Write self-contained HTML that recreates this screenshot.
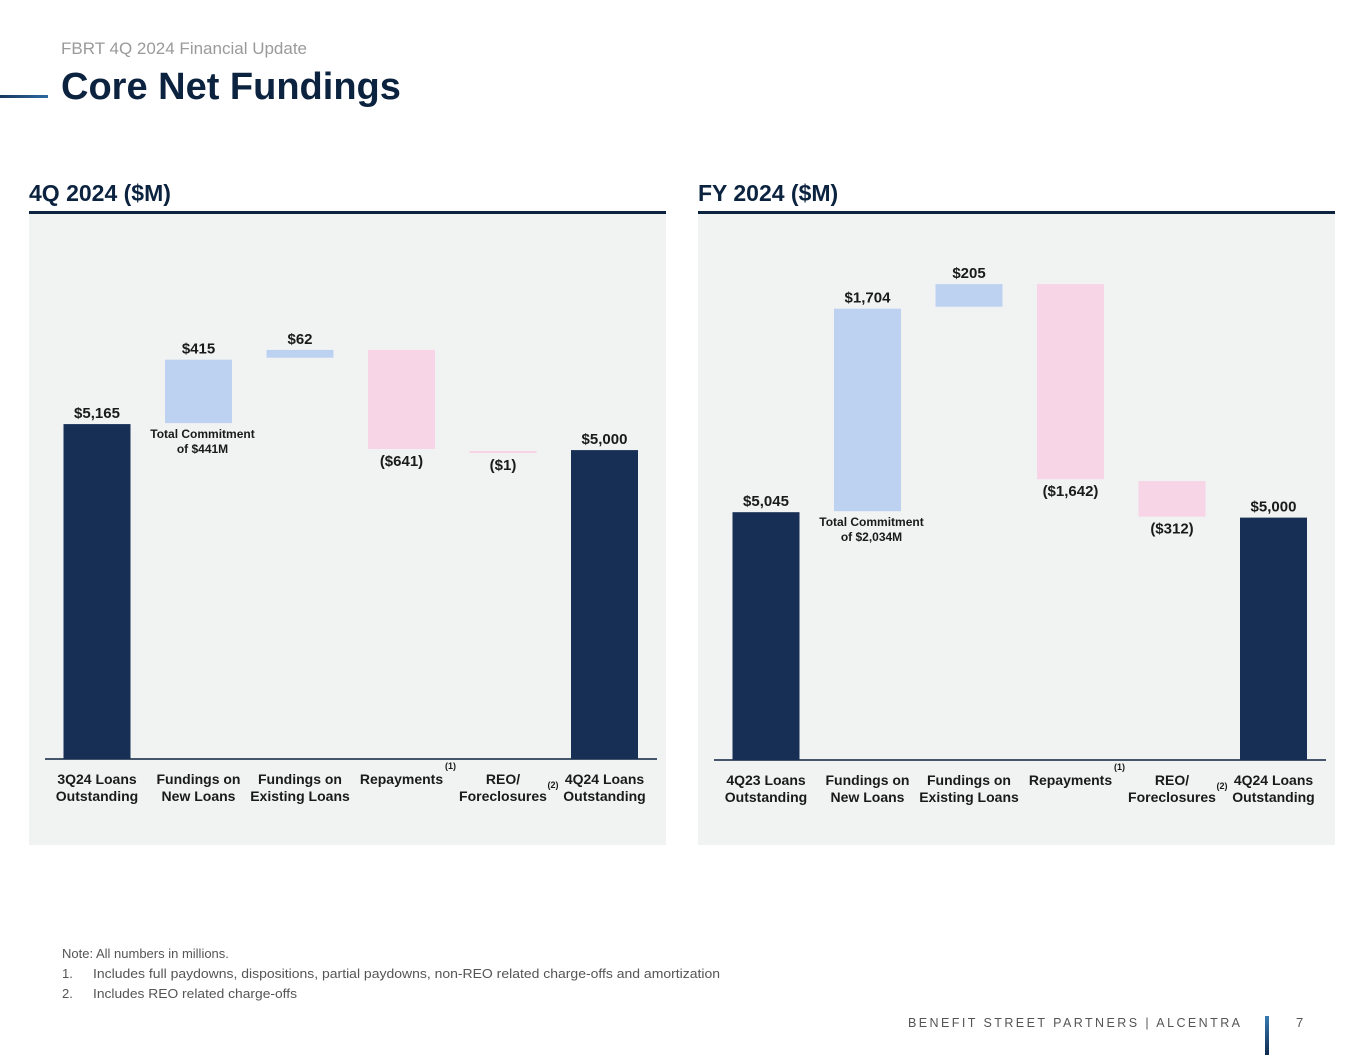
<!DOCTYPE html>
<html><head><meta charset="utf-8"><style>
body{margin:0;background:#fff;}
svg text{font-family:"Liberation Sans",sans-serif;}
.c{font-family:"Liberation Sans Narrow","Liberation Sans",sans-serif !important;font-weight:bold;fill:#1a1a1a;}
</style></head><body>
<svg id="page" width="1365" height="1055" xmlns="http://www.w3.org/2000/svg">
<defs><linearGradient id="lg" x1="0" x2="1"><stop offset="0" stop-color="#16375f"/><stop offset="1" stop-color="#2f6aa0"/></linearGradient>
<linearGradient id="vg" x1="0" x2="0" y1="0" y2="1"><stop offset="0" stop-color="#3a7bb5"/><stop offset="1" stop-color="#0e2a4d"/></linearGradient></defs>
<text x="61" y="54" font-size="17" fill="#9a9a9a">FBRT 4Q 2024 Financial Update</text>
<rect x="0" y="95" width="48" height="3" fill="url(#lg)"/>
<text x="61" y="99" font-size="38" font-weight="bold" fill="#0c2340">Core Net Fundings</text>
<text x="29" y="201" font-size="23" font-weight="bold" fill="#0c2340">4Q 2024 ($M)</text>
<text x="698" y="201" font-size="23" font-weight="bold" fill="#0c2340">FY 2024 ($M)</text>
<rect x="29" y="211" width="637" height="3" fill="#0c2340"/>
<rect x="698" y="211" width="637" height="3" fill="#0c2340"/>
<rect x="29" y="214" width="637" height="631" fill="#f1f2f2"/>
<rect x="698" y="214" width="637" height="631" fill="#f1f2f2"/>
<g id="left"></g>
<g id="right"></g>
<text x="62" y="958" font-size="13" fill="#555">Note: All numbers in millions.</text>
<text x="62" y="978" font-size="13" fill="#555">1.<tspan x="93" textLength="627" lengthAdjust="spacingAndGlyphs">Includes full paydowns, dispositions, partial paydowns, non-REO related charge-offs and amortization</tspan></text>
<text x="62" y="998" font-size="13" fill="#555">2.<tspan x="93" textLength="204" lengthAdjust="spacingAndGlyphs">Includes REO related charge-offs</tspan></text>
<text x="908" y="1027" font-size="12.5" fill="#555" textLength="332" lengthAdjust="spacing">BENEFIT STREET PARTNERS | ALCENTRA</text>
<rect x="1265" y="1016" width="4" height="39" fill="url(#vg)"/>
<text x="1296" y="1027" font-size="13" fill="#555">7</text>
</svg>
<script>
const leftCats=[["3Q24 Loans","Outstanding"],["Fundings on","New Loans"],["Fundings on","Existing Loans"],["Repayments"],["REO/","Foreclosures"],["4Q24 Loans","Outstanding"]];
const leftValues=[5165,415,62,-641,-1,5000];
const leftLabels=["$5,165","$415","$62","($641)","($1)","$5,000"];
const rightCats=[["4Q23 Loans","Outstanding"],["Fundings on","New Loans"],["Fundings on","Existing Loans"],["Repayments"],["REO/","Foreclosures"],["4Q24 Loans","Outstanding"]];
const rightValues=[5045,1704,205,-1642,-312,5000];
const rightLabels=["$5,045","$1,704","$205","($1,642)","($312)","$5,000"];
const leftNote=["Total Commitment","of $441M"];
const rightNote=["Total Commitment","of $2,034M"];
const NS="http://www.w3.org/2000/svg";
function mk(p,t,a,txt){const e=document.createElementNS(NS,t);for(const k in a)e.setAttribute(k,a[k]);if(txt!=null)e.textContent=txt;p.appendChild(e);return e;}
function draw(id,x0,base,vmin,k,cats,vals,labels,note){
  const g=document.getElementById(id);
  const y=v=>base-(v-vmin)*k;
  const xc=i=>x0+i*101.5;
  const ax=mk(g,'line',{x1:x0-52,x2:x0+560,y1:base,y2:base,stroke:'#0c2340','stroke-width':1.5});
  
  
  let cum=0;
  vals.forEach((v,i)=>{
    let top,bot,fill;
    const total=(i===0||i===vals.length-1);
    if(total){top=y(v);bot=base;fill='#172e55';cum=v;}
    else{const a=cum,b=cum+v;top=y(Math.max(a,b))+1;bot=y(Math.min(a,b))-1;if(bot-top<2){bot=top+2;}fill=v>=0?'#bdd1f1':'#f7d4e6';cum=b;}
    const r=mk(g,'rect',{x:xc(i)-33.5,y:top,width:67,height:bot-top,fill:fill});
    
    
    const ly=(total||v>=0)?top-6:bot+17;
    const t=mk(g,'text',{x:xc(i),y:ly,'text-anchor':'middle','font-size':15,class:'c'},labels[i]);
    
    
    if(i===1){
      note.forEach((s,j)=>{const n=mk(g,'text',{x:xc(i)+4,y:bot+15+j*15,'text-anchor':'middle','font-size':12,class:'c'},s);
      
      });
    }
    cats[i].forEach((s,j)=>{const c=mk(g,'text',{x:xc(i),y:base+25+j*17,'text-anchor':'middle','font-size':14,class:'c'},s);
      
      });
  });
  const f1=mk(g,'text',{x:xc(3)+49,y:base+10,'text-anchor':'middle','font-size':9,class:'c'},'(1)');
  
  
  const f2=mk(g,'text',{x:xc(4)+50,y:base+29,'text-anchor':'middle','font-size':9,class:'c'},'(2)');
  
  
}
draw('left',97,759,3040,0.1576,leftCats,leftValues,leftLabels,leftNote);
draw('right',766,760,2980,0.12,rightCats,rightValues,rightLabels,rightNote);
</script>
</body></html>
